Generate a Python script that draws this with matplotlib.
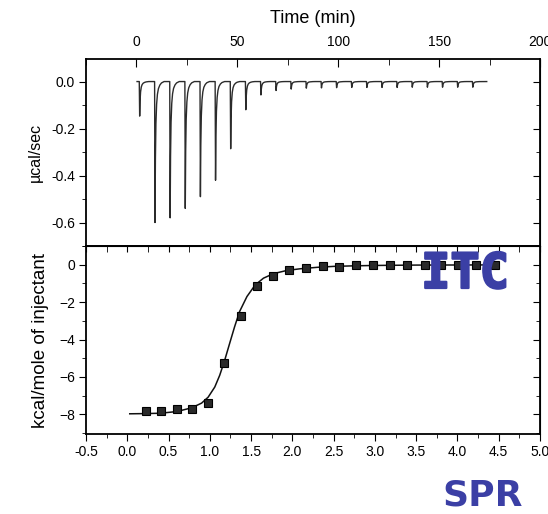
import numpy as np
import matplotlib
matplotlib.use("Agg")
import matplotlib.pyplot as plt
from matplotlib.ticker import MultipleLocator, FormatStrFormatter
import matplotlib.patheffects as pe

# ---------------- data ----------------
# Raw ITC thermogram: injection times (min) and peak heights (ucal/sec)
inj_times = [1.6, 9.2, 16.7, 24.2, 31.7, 39.2, 46.7, 54.2, 61.7, 69.2, 76.7,
             84.2, 91.7, 99.2, 106.7, 114.2, 121.7, 129.2, 136.7, 144.2,
             151.7, 159.2, 166.7]
peak_heights = [-0.147, -0.600, -0.580, -0.540, -0.490, -0.420, -0.286, -0.120,
                -0.057, -0.038, -0.032, -0.028, -0.027, -0.026, -0.025, -0.025,
                -0.025, -0.025, -0.024, -0.024, -0.024, -0.024, -0.024]
trace_start, trace_end = 0.3, 173.6
# relative peak profile (offset in min, fraction of peak height)
profile_dt = [-0.2, 0.0, 0.2, 0.45, 0.8, 1.2, 1.7, 2.4, 3.2, 4.5]
profile_frac = [0.0, 1.0, 0.55, 0.3, 0.16, 0.09, 0.05, 0.025, 0.01, 0.0]

# Integrated heats
molar_ratio = [0.223, 0.41, 0.60, 0.79, 0.98, 1.175, 1.374, 1.567, 1.76, 1.96,
               2.16, 2.37, 2.56, 2.77, 2.98, 3.18, 3.39, 3.61, 3.80, 4.01,
               4.23, 4.45]
heat = [-7.80, -7.83, -7.74, -7.71, -7.37, -5.23, -2.72, -1.16, -0.60, -0.30,
        -0.20, -0.08, -0.11, -0.04, -0.01, 0.0, 0.0, 0.0, 0.0, 0.0, 0.0, 0.0]

# Fit curve
fit_x = [0.03, 0.20, 0.40, 0.60, 0.78, 0.90, 0.98, 1.06, 1.12, 1.18, 1.24,
         1.30, 1.36, 1.45, 1.55, 1.65, 1.77, 1.93, 2.09, 2.30, 2.50, 2.75,
         3.00, 3.50, 4.00, 4.45]
fit_y = [-7.97, -7.96, -7.94, -7.85, -7.65, -7.40, -7.08, -6.54, -5.91, -5.11,
         -4.21, -3.32, -2.51, -1.70, -1.08, -0.72, -0.48, -0.31, -0.22, -0.14,
         -0.09, -0.06, -0.04, -0.02, -0.015, -0.01]

# ---------------- build trace ----------------
tx = [trace_start]
ty = [0.0]
for t0, h in zip(inj_times, peak_heights):
    for dt, f in zip(profile_dt, profile_frac):
        tx.append(t0 + dt)
        ty.append(h * f)
tx.append(trace_end)
ty.append(0.0)

# ---------------- figure ----------------
plt.rcParams['font.family'] = ['Liberation Sans', 'DejaVu Sans']
fig = plt.figure(figsize=(5.48, 5.14), dpi=100)
L, R = 86 / 548, 540 / 548
ymid = 1 - 246 / 514
ax1 = fig.add_axes([L, ymid, R - L, (1 - 59 / 514) - ymid])
ax2 = fig.add_axes([L, 1 - 434 / 514, R - L, ymid - (1 - 434 / 514)])

# top panel
ax1.plot(tx, ty, color='#2b2b2b', lw=1.0)
ax1.set_xlim(-25, 200)
ax1.set_ylim(-0.70, 0.096)
ax1.xaxis.set_major_locator(MultipleLocator(50))
ax1.xaxis.set_minor_locator(MultipleLocator(25))
ax1.yaxis.set_major_locator(MultipleLocator(0.2))
ax1.yaxis.set_minor_locator(MultipleLocator(0.1))
ax1.xaxis.set_ticks_position('top')
ax1.xaxis.set_label_position('top')
ax1.tick_params(axis='x', which='both', direction='in', top=True, bottom=False,
                labeltop=True, labelbottom=False, labelsize=10, pad=7)
ax1.tick_params(axis='x', which='major', length=6)
ax1.tick_params(axis='x', which='minor', length=4)
ax1.tick_params(axis='y', which='both', direction='out', left=True, right=False,
                labelsize=10, pad=3)
ax1.tick_params(axis='y', which='major', length=5)
ax1.tick_params(axis='y', which='minor', length=3)
ax1r = ax1.secondary_yaxis('right')
ax1r.yaxis.set_major_locator(MultipleLocator(0.2))
ax1r.yaxis.set_minor_locator(MultipleLocator(0.1))
ax1r.tick_params(which='both', direction='in', labelright=False)
ax1r.tick_params(which='major', length=5)
ax1r.tick_params(which='minor', length=3)
ax1.yaxis.set_major_formatter(FormatStrFormatter('%.1f'))
ax1.set_xlabel('Time (min)', fontsize=13, labelpad=9)
ax1.set_ylabel('µcal/sec', fontsize=11.5, labelpad=6)

# bottom panel
ax2.plot(fit_x, fit_y, color='#111111', lw=1.1)
ax2.plot(molar_ratio, heat, linestyle='none', marker='s', markersize=6.3,
         markerfacecolor='#2a2a2a', markeredgecolor='#000000', markeredgewidth=0.8)
ax2.set_xlim(-0.5, 5.0)
ax2.set_ylim(-9.05, 1.0)
ax2.xaxis.set_major_locator(MultipleLocator(0.5))
ax2.xaxis.set_minor_locator(MultipleLocator(0.25))
ax2.yaxis.set_major_locator(MultipleLocator(2))
ax2.yaxis.set_minor_locator(MultipleLocator(1))
ax2.xaxis.set_major_formatter(FormatStrFormatter('%.1f'))
ax2.tick_params(axis='x', which='both', direction='out', bottom=True,
                labelsize=10, pad=3)
ax2.tick_params(axis='x', which='major', length=5)
ax2.tick_params(axis='x', which='minor', length=3)
ax2.tick_params(axis='y', which='both', direction='out', left=True,
                labelsize=10, pad=3)
ax2.tick_params(axis='y', which='major', length=5)
ax2.tick_params(axis='y', which='minor', length=3)
ax2t = ax2.secondary_xaxis('top')
ax2t.xaxis.set_major_locator(MultipleLocator(0.5))
ax2t.xaxis.set_minor_locator(MultipleLocator(0.25))
ax2t.tick_params(which='both', direction='in', labeltop=False, length=4)
ax2r = ax2.secondary_yaxis('right')
ax2r.yaxis.set_major_locator(MultipleLocator(2))
ax2r.yaxis.set_minor_locator(MultipleLocator(1))
ax2r.tick_params(which='both', direction='in', labelright=False)
ax2r.tick_params(which='major', length=5)
ax2r.tick_params(which='minor', length=3)
ax2.set_ylabel('kcal/mole of injectant', fontsize=13.5, labelpad=7)

for a in (ax1, ax2):
    for s in a.spines.values():
        s.set_linewidth(1.3)

blue = '#3b3fa5'
fig.text(465 / 548, 1 - 288 / 514, 'ITC', fontsize=35, fontweight='bold',
         family='DejaVu Sans Mono', color=blue, ha='center', va='baseline',
         path_effects=[pe.withStroke(linewidth=1.6, foreground=blue)])
fig.text(483 / 548, 1 - 505 / 514, 'SPR', fontsize=26, fontweight='bold',
         family='DejaVu Sans', color=blue, ha='center', va='baseline')

fig.savefig('out.png', dpi=100)
